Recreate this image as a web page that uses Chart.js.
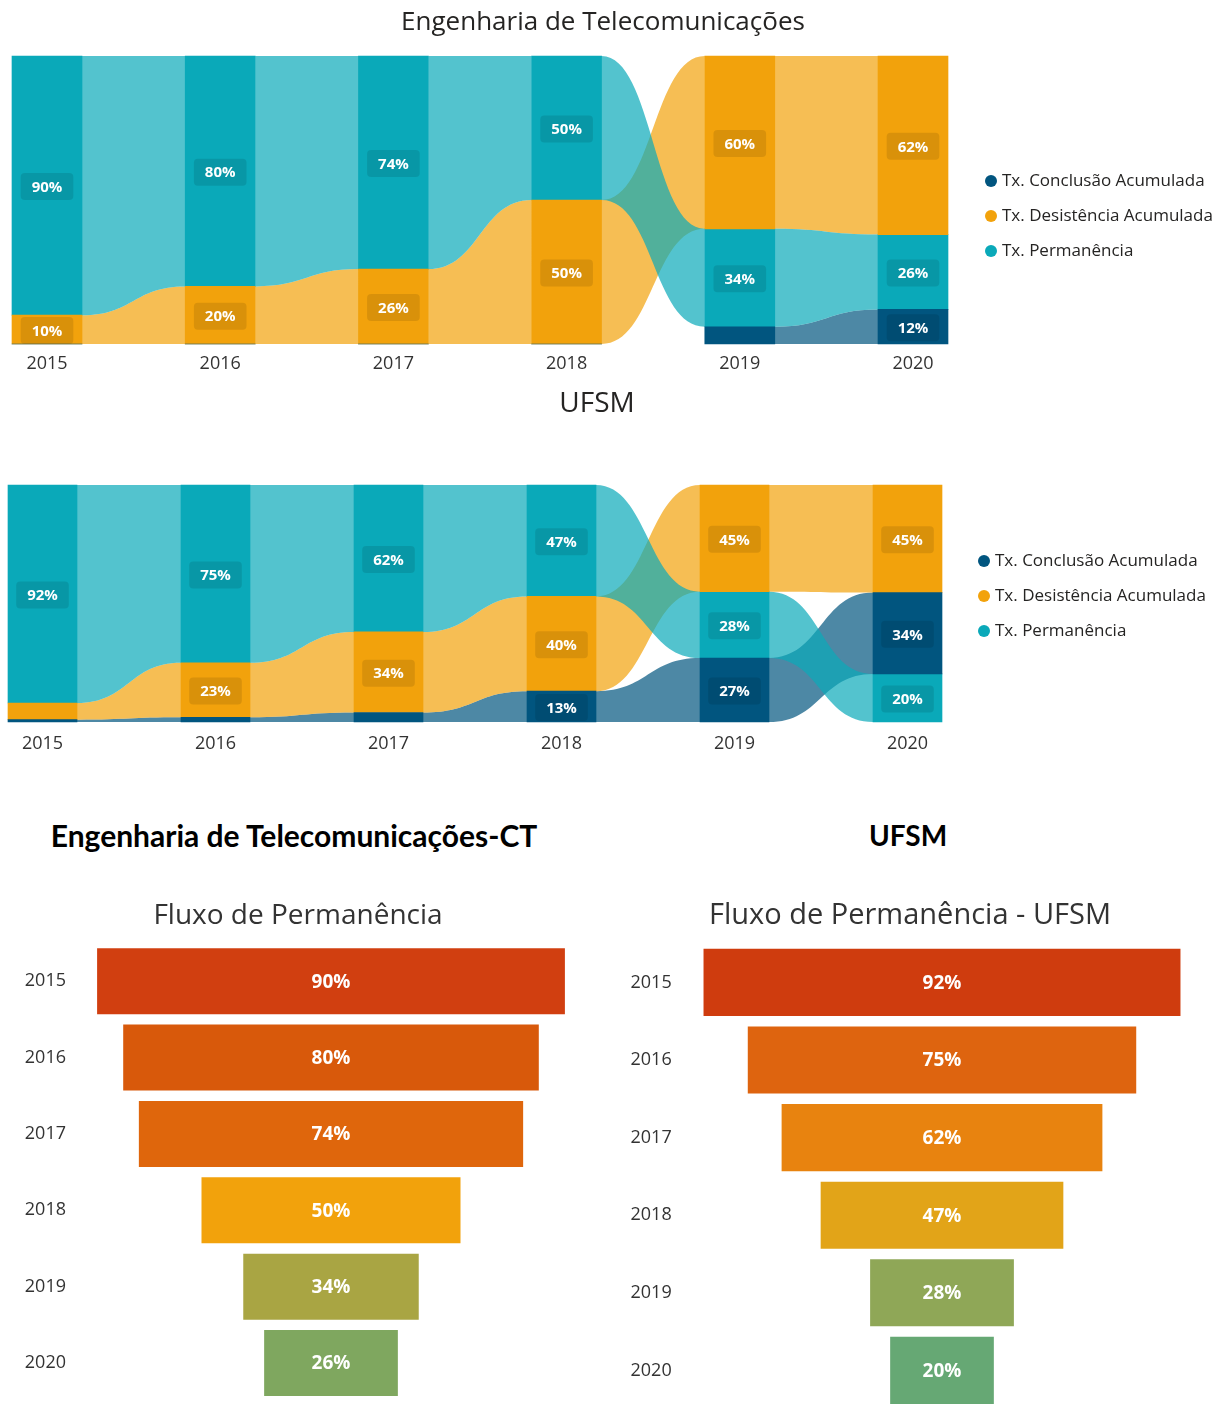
<!DOCTYPE html>
<html>
<head>
<meta charset="utf-8">
<script src="https://cdn.jsdelivr.net/npm/chart.js@4.4.1/dist/chart.umd.min.js"></script>
<style>
  body { margin: 0; width: 1229px; height: 1405px; overflow: hidden; background: #fff; font-family: 'Open Sans', sans-serif; color: #252423; position: relative; }
  canvas { position: absolute; }
  .txt { position: absolute; white-space: nowrap; transform: translate(-50%, -50%); }
  .legend { position: absolute; font-size: 17px; line-height: 35px; }
  .legend span.dot { display: inline-block; width: 12px; height: 12px; border-radius: 50%; margin-right: 5px; vertical-align: -1px; }
</style>
</head>
<body>
<canvas id="ribbonTelecom" width="1229" height="380" style="left:0px;top:0px"></canvas>
<canvas id="ribbonUfsm" width="1229" height="378" style="left:0px;top:380px"></canvas>
<canvas id="funnelTelecom" width="614" height="556" style="left:0px;top:860px"></canvas>
<canvas id="funnelUfsm" width="615" height="570" style="left:614px;top:860px"></canvas>

<div class="txt" style="left:603px;top:20px;font-size:26px">Engenharia de Telecomunicações</div>
<div class="txt" style="left:597px;top:401px;font-size:28px">UFSM</div>
<div class="legend" id="legend1" style="left:985px;top:162px"></div>
<div class="legend" id="legend2" style="left:978px;top:542px"></div>

<div class="txt" style="left:294px;top:835px;font-size:30px;font-weight:bold;color:#000;font-family:Lato">Engenharia de Telecomunicações-CT</div>
<div class="txt" style="left:908px;top:835px;font-size:28px;font-weight:bold;color:#000;font-family:Lato">UFSM</div>
<div class="txt" style="left:298px;top:913px;font-size:28px;color:#333">Fluxo de Permanência</div>
<div class="txt" style="left:910px;top:912px;font-size:29px;color:#333">Fluxo de Permanência - UFSM</div>

<script>
// ---- data ----
var years = ['2015', '2016', '2017', '2018', '2019', '2020'];
var seriesNames = ['Tx. Conclusão Acumulada', 'Tx. Desistência Acumulada', 'Tx. Permanência'];

var telecomConclusao   = [0, 0, 0, 0, 6, 12];
var telecomDesistencia = [10, 20, 26, 50, 60, 62];
var telecomPermanencia = [90, 80, 74, 50, 34, 26];

var ufsmConclusao   = [1, 2, 4, 13, 27, 34.3];
var ufsmDesistencia = [7, 23, 34, 40, 45, 45.4];
var ufsmPermanencia = [92, 75, 62, 47, 28, 20.3];

// ---- styles ----
var barColors = ['#01557f', '#f2a20c', '#0aa9b9'];
var ribbonColors = ['rgba(1,85,127,0.7)', 'rgba(242,162,12,0.7)', 'rgba(10,169,185,0.7)'];
var funnelColorsTelecom = ['#d13f10', '#d8590b', '#df660c', '#f2a20c', '#a9a543', '#7fa75f'];
var funnelColorsUfsm = ['#cf3c0e', '#de640f', '#e8830f', '#e2a418', '#8fa757', '#66a874'];

// ribbon chart: biggest value on top in each year
function stackRanges(series, tiePriority) {
  var out = series.map(function () { return []; });
  years.forEach(function (y, i) {
    var order = tiePriority.slice().sort(function (a, b) { return series[b][i] - series[a][i]; });
    var base = 0;
    for (var j = order.length - 1; j >= 0; j--) {
      var k = order[j];
      out[k][i] = [base, base + series[k][i]];
      base += series[k][i];
    }
  });
  return out;
}

var ribbonPlugin = {
  id: 'ribbons',
  beforeDatasetsDraw: function (chart) {
    var ctx = chart.ctx;
    chart.data.datasets.forEach(function (ds, d) {
      var meta = chart.getDatasetMeta(d);
      ctx.save();
      ctx.fillStyle = ds.ribbonColor;
      for (var i = 0; i < meta.data.length - 1; i++) {
        if (ds.values[i] <= 0 || ds.values[i + 1] <= 0) continue;
        var a = meta.data[i], b = meta.data[i + 1];
        var x0 = a.x + a.width / 2, x1 = b.x - b.width / 2, xm = (x0 + x1) / 2;
        var t0 = Math.min(a.y, a.base), b0 = Math.max(a.y, a.base);
        var t1 = Math.min(b.y, b.base), b1 = Math.max(b.y, b.base);
        ctx.beginPath();
        ctx.moveTo(x0, t0);
        ctx.bezierCurveTo(xm, t0, xm, t1, x1, t1);
        ctx.lineTo(x1, b1);
        ctx.bezierCurveTo(xm, b1, xm, b0, x0, b0);
        ctx.closePath();
        ctx.fill();
      }
      ctx.restore();
    });
  },
  afterDatasetsDraw: function (chart) {
    var ctx = chart.ctx;
    ctx.save();
    ctx.font = 'bold 15px "Open Sans"';
    ctx.textAlign = 'center';
    ctx.textBaseline = 'middle';
    chart.data.datasets.forEach(function (ds, d) {
      chart.getDatasetMeta(d).data.forEach(function (el, i) {
        var v = Math.round(ds.values[i]);
        if (v < 10) return;
        var txt = v + '%';
        var w = ctx.measureText(txt).width + 22, h = 27;
        var cy = (el.y + el.base) / 2 + 1;
        ctx.fillStyle = 'rgba(0,0,0,0.1)';
        ctx.beginPath();
        ctx.roundRect(el.x - w / 2, cy - h / 2, w, h, 4);
        ctx.fill();
        ctx.fillStyle = '#fff';
        ctx.fillText(txt, el.x, cy + 1);
      });
    });
    ctx.restore();
  }
};

function makeRibbon(id, series, barWidth, pad, tickPad) {
  var ranges = stackRanges(series, [2, 1, 0]);
  new Chart(document.getElementById(id), {
    type: 'bar',
    data: {
      labels: years,
      datasets: series.map(function (s, k) {
        return {
          label: seriesNames[k],
          data: ranges[k],
          values: s,
          backgroundColor: barColors[k],
          ribbonColor: ribbonColors[k],
          barThickness: barWidth,
          grouped: false,
          borderWidth: 0,
          clip: false
        };
      })
    },
    options: {
      responsive: false,
      animation: false,
      layout: { padding: pad },
      plugins: { legend: { display: false }, tooltip: { enabled: false } },
      scales: {
        x: {
          offset: false,
          grid: { display: false, drawTicks: false },
          border: { display: false },
          ticks: { color: '#333', font: { family: 'Open Sans', size: 18 }, padding: tickPad },
          afterFit: function (s) { s.height = 36; }
        },
        y: { display: false, min: 0, max: 100 }
      }
    },
    plugins: [ribbonPlugin]
  });
}

makeRibbon('ribbonTelecom', [telecomConclusao, telecomDesistencia, telecomPermanencia], 70,
  { left: 47, right: 316, top: 56, bottom: 0 }, 9);
makeRibbon('ribbonUfsm', [ufsmConclusao, ufsmDesistencia, ufsmPermanencia], 69,
  { left: 42.5, right: 321.5, top: 105, bottom: 0 }, 11);

// legends
['legend1', 'legend2'].forEach(function (id) {
  document.getElementById(id).innerHTML = seriesNames.map(function (n, k) {
    return '<div><span class="dot" style="background:' + barColors[k] + '"></span>' + n + '</div>';
  }).join('');
});

// funnels
var funnelLabels = {
  id: 'funnelLabels',
  afterDatasetsDraw: function (chart) {
    var ctx = chart.ctx;
    var ds = chart.data.datasets[0];
    ctx.save();
    ctx.font = 'bold 19px "Open Sans"';
    ctx.textAlign = 'center';
    ctx.textBaseline = 'middle';
    ctx.fillStyle = '#fff';
    chart.getDatasetMeta(0).data.forEach(function (el, i) {
      ctx.fillText(Math.round(ds.values[i]) + '%', (el.x + el.base) / 2, el.y + 1);
    });
    ctx.restore();
  }
};

function makeFunnel(id, values, colors, pad, axisWidth, tickPad) {
  new Chart(document.getElementById(id), {
    type: 'bar',
    data: {
      labels: years,
      datasets: [{
        data: values.map(function (v) { return [-v / 2, v / 2]; }),
        values: values,
        backgroundColor: colors,
        borderColor: 'rgba(255,255,255,0.45)',
        borderWidth: 1,
        borderSkipped: false,
        barPercentage: 0.89,
        categoryPercentage: 1
      }]
    },
    options: {
      indexAxis: 'y',
      responsive: false,
      animation: false,
      layout: { padding: pad },
      plugins: { legend: { display: false }, tooltip: { enabled: false } },
      scales: {
        x: { display: false, min: -50, max: 50 },
        y: {
          grid: { display: false, drawTicks: false },
          border: { display: false },
          ticks: { color: '#333', font: { family: 'Open Sans', size: 18 }, padding: tickPad },
          afterFit: function (s) { s.width = axisWidth; }
        }
      }
    },
    plugins: [funnelLabels]
  });
}

makeFunnel('funnelTelecom', telecomPermanencia, funnelColorsTelecom,
  { left: 0, right: 22, top: 83, bottom: 0 }, 70, 4);
makeFunnel('funnelUfsm', ufsmPermanencia, funnelColorsUfsm,
  { left: 0, right: 26.7, top: 83.6, bottom: 0 }, 67.7, 10);
</script>
</body>
</html>
